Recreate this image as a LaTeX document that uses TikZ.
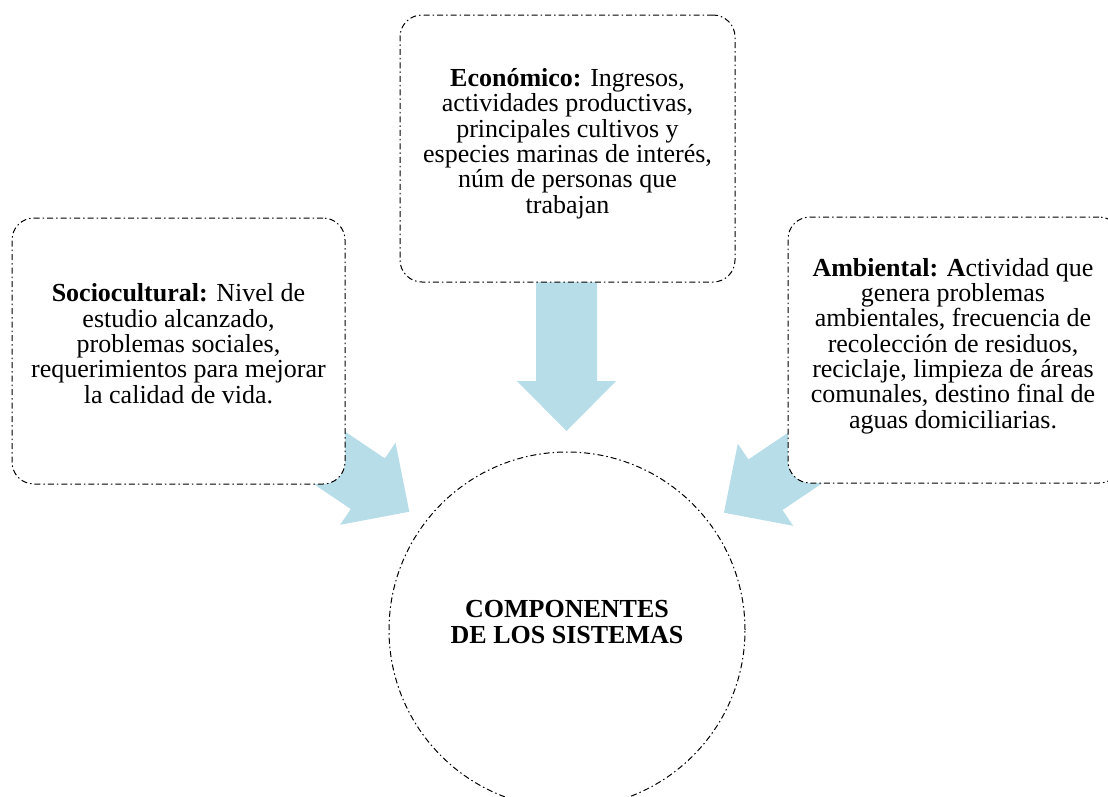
\documentclass[tikz,border=0pt]{standalone}
\usepackage{fontspec}
\setmainfont{Liberation Serif}
\definecolor{arrowblue}{HTML}{B7DDE8}
\begin{document}
\begin{tikzpicture}[x=1pt,y=-1pt,
  dd/.style={line width=1pt, dash pattern=on 6pt off 3pt on 1.5pt off 3pt},
  panel/.style={dd, draw=black, fill=white, rounded corners=22pt, inner sep=0pt},
  txt/.style={font=\fontsize{26}{25.3}\selectfont, align=center, inner sep=0pt},
  blockarrow/.style={fill=arrowblue}]
\useasboundingbox (0,0) rectangle (1108,796);
\clip (0,0) rectangle (1108,796);
\fill[white] (0,0) rectangle (1108,796);
% central circle
\node[draw, dd, circle, minimum size=356pt, inner sep=0pt] (centre) at (567,630) {};
\node[txt, font=\fontsize{26}{25.3}\selectfont\bfseries, anchor=base] (centretext) at (567,643) {COMPONENTES\\DE LOS SISTEMAS};
% block arrows (tails hidden under the panels)
\coordinate (tipL) at (409.3,511.7);
\coordinate (tipD) at (566.5,431);
\coordinate (tipR) at (724,512.7);
\foreach \t/\a in {tipL/-34, tipD/-90, tipR/214}{
  \fill[blockarrow, shift={(\t)}, rotate=\a]
    (0,0) -- (-50,49.5) -- (-50,30.5) -- (-150,30.5) -- (-150,-30.5) -- (-50,-30.5) -- (-50,-49.5) -- cycle;
}
% panels
\node[panel, minimum width=333pt, minimum height=266pt] (socio) at (178.5,351) {};
\node[panel, minimum width=335pt, minimum height=267pt] (econ) at (567.5,148.5) {};
\node[panel, minimum width=333pt, minimum height=266pt] (amb) at (954.5,350) {};
% texts (base = baseline of the last line)
\node[txt, anchor=base] (sociotext) at (178.5,403) {\textbf{Sociocultural:} Nivel de\\estudio alcanzado,\\problemas sociales,\\requerimientos para mejorar\\la calidad de vida.};
\node[txt, anchor=base] (econtext) at (567.5,213) {\textbf{Económico:} Ingresos,\\actividades productivas,\\principales cultivos y\\especies marinas de interés,\\núm de personas que\\trabajan};
\node[txt, anchor=base] (ambtext) at (953,428) {\textbf{Ambiental: A}ctividad que\\genera problemas\\ambientales, frecuencia de\\recolección de residuos,\\reciclaje, limpieza de áreas\\comunales, destino final de\\aguas domiciliarias.};
\end{tikzpicture}
\end{document}
